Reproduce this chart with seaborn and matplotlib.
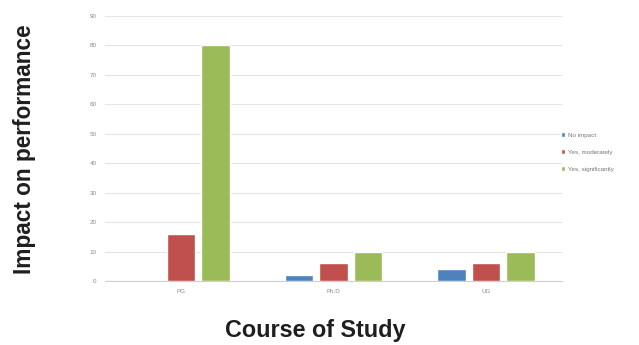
import matplotlib
matplotlib.use("Agg")
import matplotlib.pyplot as plt
import seaborn as sns
import pandas as pd

courses = ["PG", "Ph.D", "UG"]
responses = ["No impact", "Yes, moderately", "Yes, significantly"]
no_impact = [0, 2, 4]
moderately = [16, 6, 6]
significantly = [80, 10, 10]
colors = ["#4F81BD", "#C0504D", "#9BBB59"]
y_ticks = list(range(0, 100, 10))

rows = []
for resp, vals in zip(responses, [no_impact, moderately, significantly]):
    for c, v in zip(courses, vals):
        rows.append({"Course": c, "Response": resp, "Value": v})
df = pd.DataFrame(rows)

sns.set_theme(style="white")
plt.rcParams["font.family"] = ["Liberation Sans", "DejaVu Sans"]

fig = plt.figure(figsize=(6.39, 3.45), dpi=100)
ax = fig.add_axes([0.164, 0.1855, 0.716, 0.768])

sns.barplot(data=df, x="Course", y="Value", hue="Response", hue_order=responses,
            order=courses, palette=colors, width=0.68, gap=0.17, ax=ax,
            saturation=1, legend=True, zorder=3)

ax.set_ylim(0, 90)
ax.set_yticks(y_ticks)
ax.set_yticklabels([str(t) for t in y_ticks])
ax.yaxis.grid(True, color="#e4e4e4", linewidth=0.8, zorder=0)
ax.set_axisbelow(True)
for s in ["top", "right", "left"]:
    ax.spines[s].set_visible(False)
ax.spines["bottom"].set_color("#d0d0d0")
ax.spines["bottom"].set_linewidth(0.8)
ax.tick_params(axis="both", length=0, labelsize=4.5, labelcolor="#8a8a8a", pad=6)

ax.set_xlabel("")
ax.set_ylabel("")
fig.text(315 / 639, 1 - 330 / 345, "Course of Study", fontsize=16.8, fontweight="bold",
         color="#1e1e1e", ha="center", va="center")
fig.text(25 / 639, 1 - 149 / 345, "Impact on performance", fontsize=16.3, fontweight="bold",
         color="#1e1e1e", ha="center", va="center", rotation=90)

leg = ax.legend(loc="center left", bbox_to_anchor=(0.985, 0.487), frameon=False,
                fontsize=4.5, handlelength=0.7, handleheight=0.7, labelspacing=1.85,
                handletextpad=0.4)
for t in leg.get_texts():
    t.set_color("#777777")

fig.savefig("out.png", dpi=100, facecolor="white")
